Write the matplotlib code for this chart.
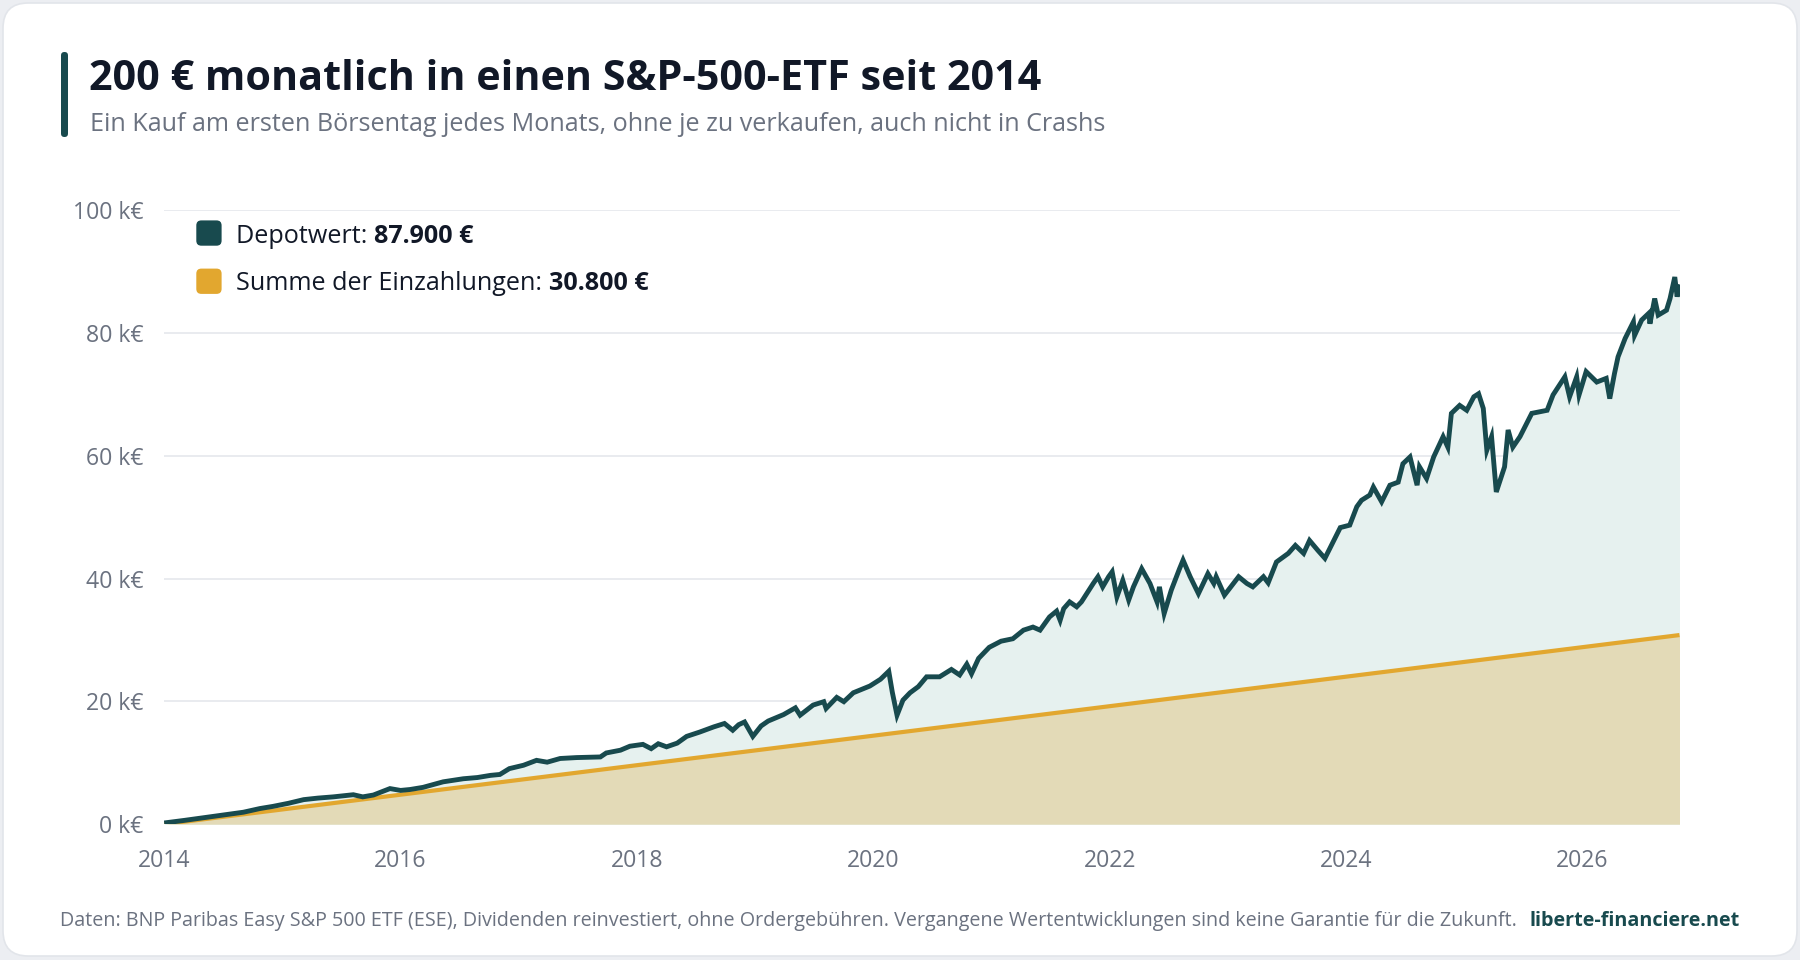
import numpy as np
import matplotlib
matplotlib.use("Agg")
import matplotlib.pyplot as plt
from matplotlib.patches import FancyBboxPatch
from matplotlib import font_manager as fm


def _is_bold(w):
    if isinstance(w, (int, float)):
        return w >= 600
    return str(w).lower() in ('bold', 'semibold', 'demibold', 'heavy', 'extra bold', 'black', '700', '600', '800')


def _pick_family():
    prefs = ['Noto Sans', 'Open Sans', 'Lato', 'Roboto', 'Inter', 'Liberation Sans', 'DejaVu Sans']
    for p in prefs:
        entries = [f for f in fm.fontManager.ttflist if f.name == p]
        if entries and any(_is_bold(f.weight) for f in entries):
            return p
    return 'DejaVu Sans'


FAMILY = _pick_family()
plt.rcParams['font.family'] = [FAMILY, 'DejaVu Sans']

# ---------------- data ----------------
depot_dates = [
    2014.00, 2014.17, 2014.33, 2014.50, 2014.67, 2014.81, 2014.92, 2015.05, 2015.18, 2015.30,
    2015.43, 2015.60, 2015.68, 2015.77, 2015.91, 2016.00, 2016.08, 2016.19, 2016.36, 2016.53,
    2016.65, 2016.76, 2016.84, 2016.92, 2017.04, 2017.15, 2017.24, 2017.35, 2017.49, 2017.60,
    2017.69, 2017.74, 2017.86, 2017.94, 2018.05, 2018.12, 2018.18, 2018.25, 2018.34, 2018.42,
    2018.53, 2018.65, 2018.74, 2018.81, 2018.86, 2018.91, 2018.98, 2019.05, 2019.11, 2019.24,
    2019.34, 2019.38, 2019.49, 2019.58, 2019.60, 2019.69, 2019.75, 2019.83, 2019.97, 2020.06,
    2020.13, 2020.16, 2020.20, 2020.25, 2020.31, 2020.38, 2020.45, 2020.56, 2020.66, 2020.73,
    2020.79, 2020.83, 2020.89, 2020.98, 2021.08, 2021.18, 2021.27, 2021.35, 2021.41, 2021.49,
    2021.55, 2021.58, 2021.61, 2021.66, 2021.72, 2021.76, 2021.86, 2021.90, 2021.94, 2021.99,
    2022.02, 2022.06, 2022.11, 2022.16, 2022.20, 2022.27, 2022.34, 2022.40, 2022.42, 2022.46,
    2022.52, 2022.59, 2022.62, 2022.68, 2022.75, 2022.83, 2022.88, 2022.90, 2022.97, 2023.09,
    2023.16, 2023.21, 2023.30, 2023.34, 2023.41, 2023.51, 2023.57, 2023.64, 2023.69, 2023.76,
    2023.82, 2023.89, 2023.95, 2024.03, 2024.09, 2024.13, 2024.20, 2024.23, 2024.30, 2024.37,
    2024.44, 2024.48, 2024.54, 2024.60, 2024.62, 2024.68, 2024.74, 2024.82, 2024.86, 2024.89,
    2024.96, 2025.02, 2025.08, 2025.12, 2025.16, 2025.19, 2025.23, 2025.27, 2025.34, 2025.37,
    2025.41, 2025.47, 2025.57, 2025.70, 2025.75, 2025.85, 2025.89, 2025.95, 2025.97, 2026.03,
    2026.12, 2026.20, 2026.23, 2026.27, 2026.30, 2026.36, 2026.43, 2026.44, 2026.50, 2026.56,
    2026.57, 2026.61, 2026.64, 2026.71, 2026.74, 2026.78, 2026.80, 2026.82,
]
depot_values = [
    200, 620, 1050, 1500, 1950, 2550, 2900, 3400, 4000, 4250,
    4450, 4800, 4450, 4750, 5800, 5500, 5650, 6000, 6900, 7400,
    7600, 7950, 8100, 9050, 9600, 10400, 10100, 10700, 10850, 10900,
    10950, 11600, 12050, 12700, 13000, 12300, 13100, 12600, 13200, 14300,
    15000, 15850, 16400, 15300, 16200, 16650, 14300, 16000, 16800, 17850,
    18950, 17750, 19400, 19950, 18850, 20650, 19950, 21400, 22500, 23600,
    24900, 21500, 17750, 20200, 21400, 22400, 24000, 24000, 25200, 24300,
    26050, 24500, 27000, 28800, 29800, 30200, 31600, 32100, 31600, 33750,
    34700, 33200, 35100, 36200, 35400, 36200, 39200, 40300, 38650, 40300,
    41100, 37000, 39700, 36500, 38650, 41600, 39200, 36200, 38650, 34300,
    38100, 41600, 43000, 40300, 37550, 40800, 39200, 40300, 37300, 40300,
    39200, 38650, 40300, 39300, 42700, 44100, 45400, 44100, 46200, 44600,
    43300, 46000, 48300, 48700, 51700, 52750, 53600, 54900, 52500, 55200,
    55700, 58700, 59800, 55200, 58200, 56300, 59800, 63100, 61400, 66900,
    68200, 67400, 69600, 70100, 67700, 60900, 63100, 54100, 58200, 64200,
    61400, 63100, 66900, 67400, 69900, 72850, 69600, 72850, 69900, 73700,
    72000, 72600, 69300, 73400, 76100, 79100, 81800, 79600, 82100, 83200,
    81500, 85600, 82900, 83700, 85600, 89100, 85900, 87900,
]
deposit_dates = [2014.00, 2026.82]
deposit_values = [0, 30800]

y_ticks = [0, 20000, 40000, 60000, 80000, 100000]
y_tick_labels = ['0 k€', '20 k€', '40 k€', '60 k€', '80 k€', '100 k€']
x_ticks = [2014, 2016, 2018, 2020, 2022, 2024, 2026]
x_tick_labels = ['2014', '2016', '2018', '2020', '2022', '2024', '2026']

title = "200 € monatlich in einen S&P-500-ETF seit 2014"
subtitle = "Ein Kauf am ersten Börsentag jedes Monats, ohne je zu verkaufen, auch nicht in Crashs"
legend_labels = [("Depotwert: ", "87.900 €"), ("Summe der Einzahlungen: ", "30.800 €")]
footer = ("Daten: BNP Paribas Easy S&P 500 ETF (ESE), Dividenden reinvestiert, ohne Ordergebühren. "
          "Vergangene Wertentwicklungen sind keine Garantie für die Zukunft.")
footer_site = "liberte-financiere.net"

# ---------------- style ----------------
C_DEPOT = '#184a4e'
C_DEPOT_FILL = '#e6f1ef'
C_DEP = '#e2a72f'
C_DEP_FILL = '#e3dab7'
C_TEXT = '#111827'
C_MUTED = '#6b7280'
C_GRID = '#e7e9ee'

W, H = 1800, 960
fig = plt.figure(figsize=(18, 9.6), dpi=100, facecolor='#eceef2')


def fx(px):
    return px / W


def fy(py):
    return 1 - py / H


# card
card = FancyBboxPatch((fx(3), fy(956)), fx(1794), 953 / H,
                      boxstyle="round,pad=0,rounding_size=0.014",
                      transform=fig.transFigure, facecolor='white',
                      edgecolor='#e2e5ea', linewidth=1.2, zorder=-10,
                      mutation_aspect=W / H)
fig.patches.append(card)

# accent bar
bar = FancyBboxPatch((fx(61), fy(137)), fx(7), 85 / H,
                     boxstyle="round,pad=0,rounding_size=0.0019",
                     transform=fig.transFigure, facecolor=C_DEPOT,
                     edgecolor='none', zorder=-5, mutation_aspect=W / H)
fig.patches.append(bar)

# axes
left, right, top, bottom = 164.2, 1679.5, 210.1, 824.2
ax = fig.add_axes([fx(left), fy(bottom), fx(right - left), (bottom - top) / H])
ax.set_zorder(5)
ax.set_facecolor('none')
ax.set_xlim(2014.0, 2026.82)
ax.set_ylim(0, 100000)
for s in ax.spines.values():
    s.set_visible(False)
ax.set_yticks(y_ticks)
ax.set_yticklabels(y_tick_labels)
ax.set_xticks(x_ticks)
ax.set_xticklabels(x_tick_labels)
ax.tick_params(axis='y', length=0, pad=15, labelsize=16.6, labelcolor=C_MUTED)
ax.tick_params(axis='x', length=0, pad=18, labelsize=16.6, labelcolor=C_MUTED)
ax.grid(axis='y', color=C_GRID, linewidth=1.3, zorder=0)
ax.grid(axis='x', visible=False)
ax.set_axisbelow(True)

ax.fill_between(depot_dates, depot_values, 0, color=C_DEPOT_FILL, linewidth=0, zorder=1)
ax.fill_between(deposit_dates, deposit_values, 0, color=C_DEP_FILL, linewidth=0, zorder=2)
ax.plot(deposit_dates, deposit_values, color=C_DEP, linewidth=3.0, zorder=3,
        solid_capstyle='butt')
ax.plot(depot_dates, depot_values, color=C_DEPOT, linewidth=3.5, zorder=4,
        solid_joinstyle='miter', solid_capstyle='butt')

renderer = fig.canvas.get_renderer()


def width_of(t):
    return t.get_window_extent(renderer).width


def fit(t, target):
    t.set_fontsize(t.get_fontsize() * target / width_of(t))


# title / subtitle
t_title = fig.text(fx(89), fy(89.5), title, fontsize=30, fontweight='bold',
                   color=C_TEXT, va='baseline', ha='left', zorder=6)
fit(t_title, 949)
t_sub = fig.text(fx(90), fy(131), subtitle, fontsize=17, color=C_MUTED,
                 va='baseline', ha='left', zorder=6)
fit(t_sub, 1018)

# legend
rows_y = [243.4, 290.5]
sq_y = [220.4, 268.6]
legend_colors = [C_DEPOT, C_DEP]
base_fs = 16
pieces = []
for (lab, val), yb in zip(legend_labels, rows_y):
    a = fig.text(fx(236.5), fy(yb), lab, fontsize=base_fs, color=C_TEXT,
                 va='baseline', ha='left', zorder=6)
    b = fig.text(fx(236.5), fy(yb), val, fontsize=base_fs, color=C_TEXT,
                 fontweight='bold', va='baseline', ha='left', zorder=6)
    pieces.append((a, b))
total = width_of(pieces[1][0]) + width_of(pieces[1][1])
fs = base_fs * 413 / total
for a, b in pieces:
    a.set_fontsize(fs)
    b.set_fontsize(fs)
    x1 = a.get_window_extent(renderer).x1
    b.set_x(x1 / W)
for c, ys in zip(legend_colors, sq_y):
    sq = FancyBboxPatch((fx(196.3), fy(ys + 25.3)), fx(25.3), 25.3 / H,
                        boxstyle="round,pad=0,rounding_size=0.0028",
                        transform=fig.transFigure, facecolor=c,
                        edgecolor='none', zorder=6, mutation_aspect=W / H)
    fig.patches.append(sq)

# footer
t_foot = fig.text(fx(60), fy(926), footer, fontsize=13, color=C_MUTED,
                  va='baseline', ha='left', zorder=6)
fit(t_foot, 1453)
t_site = fig.text(fx(1740), fy(926), footer_site, fontsize=14, color=C_DEPOT,
                  fontweight='bold', va='baseline', ha='right', zorder=6)
fit(t_site, 211)

fig.savefig('out.png', dpi=100, facecolor=fig.get_facecolor())
